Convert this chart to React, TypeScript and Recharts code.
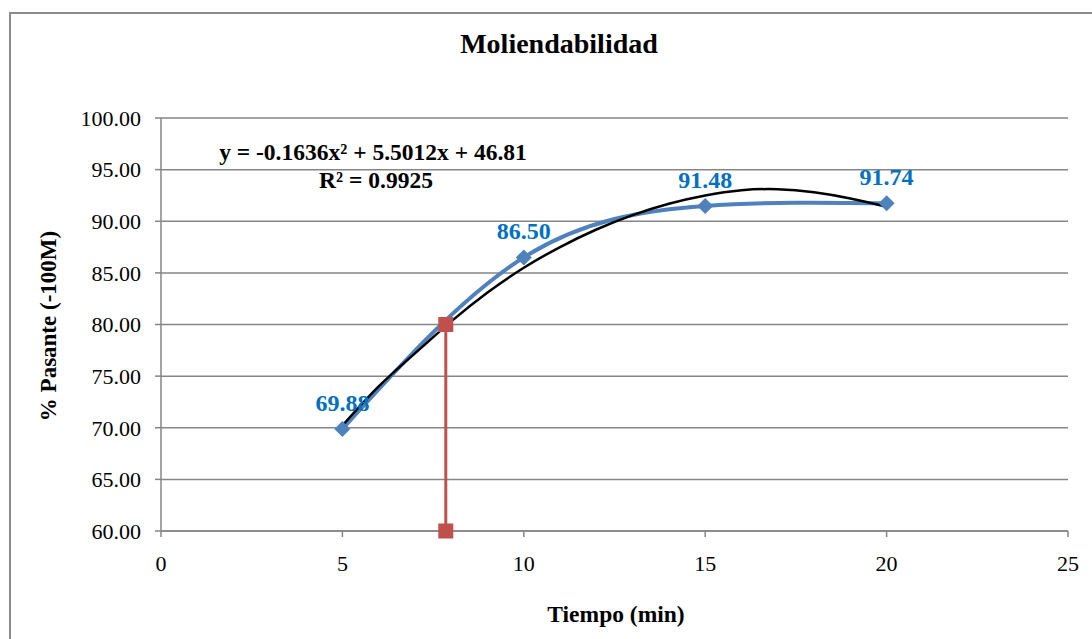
import React from 'react'
import {
  LineChart, Line, XAxis, YAxis, CartesianGrid, LabelList
} from 'recharts'

const FONT = '"Liberation Serif", "Times New Roman", serif'

// measured points
const tiempo = [5, 10, 15, 20]
const pasante = [69.88, 86.5, 91.48, 91.74]

// trend line
const trendX = [5, 6, 7, 8, 9, 10, 11, 12, 13, 14, 15, 16, 17, 18, 19, 20]
const trendY = [70.2, 74.0, 77.2, 80.3, 83.1, 85.5, 87.5, 89.2, 90.6, 91.7, 92.5, 93.0, 93.1, 92.8, 92.2, 91.4]

// red marker line at 80 % passing
const markX = [7.85, 7.85]
const markY = [80, 60]

const xTicks = [0, 5, 10, 15, 20, 25]
const yTicks = [60, 65, 70, 75, 80, 85, 90, 95, 100]

const measured = tiempo.map((x, i) => ({ x, y: pasante[i] }))
const trend = trendX.map((x, i) => ({ x, y: trendY[i] }))
const mark = markX.map((x, i) => ({ x, y: markY[i] }))

const Diamond = (props: any) => {
  const { cx, cy, index } = props
  if (cx == null || cy == null) return null
  const r = 8
  return (
    <path
      key={'d' + index}
      d={`M${cx},${cy - r}L${cx + r},${cy}L${cx},${cy + r}L${cx - r},${cy}Z`}
      fill="#4F81BD"
    />
  )
}

const Square = (props: any) => {
  const { cx, cy, index } = props
  if (cx == null || cy == null) return null
  const s = 7.5
  return <rect key={'s' + index} x={cx - s} y={cy - s} width={s * 2} height={s * 2} fill="#C0504D" />
}

export default function App() {
  const tickStyle = { fill: '#000', fontSize: 22, fontFamily: FONT }
  return (
    <div style={{ position: 'absolute', left: 0, top: 0, width: 1092, height: 639, overflow: 'hidden', background: '#fff' }}>
      <div style={{ position: 'absolute', left: 9, top: 12, width: 1200, height: 800, border: '2px solid #8c8c8c' }} />
      <div style={{ position: 'absolute', left: 0, top: 0 }}>
        <LineChart width={1092} height={639} margin={{ top: 118, right: 24, left: 61, bottom: 48 }}>
          <CartesianGrid vertical={false} stroke="#868686" strokeWidth={1.5} />
          <XAxis
            type="number"
            dataKey="x"
            domain={[0, 25]}
            ticks={xTicks}
            height={60}
            stroke="#868686"
            strokeWidth={1.5}
            tickSize={6}
            tickMargin={18}
            tick={tickStyle}
          />
          <YAxis
            type="number"
            dataKey="y"
            domain={[60, 100]}
            ticks={yTicks}
            width={100}
            stroke="#868686"
            strokeWidth={1.5}
            tickSize={6}
            tickMargin={14}
            tick={tickStyle}
            tickFormatter={(v: number) => v.toFixed(2)}
          />
          <Line
            data={measured}
            dataKey="y"
            type="natural"
            stroke="#4F81BD"
            strokeWidth={4}
            dot={Diamond}
            activeDot={false}
            isAnimationActive={false}
          >
            <LabelList
              dataKey="y"
              position="top"
              offset={18}
              formatter={(v: any) => Number(v).toFixed(2)}
              style={{ fill: '#0070C0', fontSize: 24, fontWeight: 'bold', fontFamily: FONT }}
            />
          </Line>
          <Line
            data={mark}
            dataKey="y"
            type="linear"
            stroke="#C0504D"
            strokeWidth={3}
            dot={Square}
            activeDot={false}
            isAnimationActive={false}
          />
          <Line
            data={trend}
            dataKey="y"
            type="natural"
            stroke="#000"
            strokeWidth={2.5}
            dot={false}
            activeDot={false}
            isAnimationActive={false}
          />
        </LineChart>
      </div>
      <svg width={1092} height={639} style={{ position: 'absolute', left: 0, top: 0, pointerEvents: 'none' }}>
        <g fontFamily={FONT} fontWeight="bold" fill="#000">
          <text x={559} y={53} fontSize={28} textAnchor="middle">Moliendabilidad</text>
          <text x={616} y={622} fontSize={23.5} textAnchor="middle">Tiempo (min)</text>
          <text
            x={48}
            y={326}
            fontSize={23}
            textAnchor="middle"
            dominantBaseline="central"
            transform="rotate(-90 48 326)"
          >
            % Pasante (-100M)
          </text>
          <text x={373} y={160} fontSize={23.5} textAnchor="middle">y = -0.1636x² + 5.5012x + 46.81</text>
          <text x={376} y={188} fontSize={23.5} textAnchor="middle">R² = 0.9925</text>
        </g>
      </svg>
    </div>
  )
}
